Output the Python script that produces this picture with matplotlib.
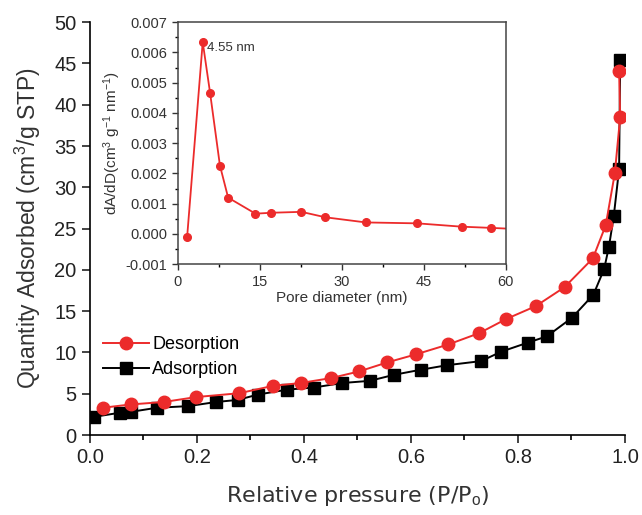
import numpy as np
import matplotlib
matplotlib.use("Agg")
import matplotlib.pyplot as plt
from matplotlib.ticker import MultipleLocator

plt.rcParams["font.family"] = ["Liberation Sans", "DejaVu Sans"]
plt.rcParams["mathtext.fontset"] = "custom"
plt.rcParams["mathtext.rm"] = "Liberation Sans"
plt.rcParams["mathtext.it"] = "Liberation Sans:italic"

# isotherm, desorption branch
des_p = [0.024, 0.076, 0.138, 0.199, 0.279, 0.342, 0.394, 0.451, 0.503, 0.556,
         0.609, 0.670, 0.728, 0.778, 0.833, 0.887, 0.940, 0.964, 0.981, 0.991, 0.989]
des_q = [3.3, 3.7, 4.0, 4.6, 5.06, 5.95, 6.3, 6.9, 7.7, 8.8,
         9.76, 10.97, 12.35, 14.05, 15.6, 17.9, 21.4, 25.4, 31.7, 38.5, 44.1]
# isotherm, adsorption branch
ads_p = [0.008, 0.056, 0.076, 0.125, 0.184, 0.236, 0.276, 0.314, 0.369, 0.418,
         0.472, 0.523, 0.569, 0.618, 0.668, 0.731, 0.769, 0.819, 0.854, 0.901,
         0.941, 0.961, 0.970, 0.979, 0.989, 0.991]
ads_q = [2.2, 2.7, 2.8, 3.3, 3.5, 4.0, 4.25, 4.9, 5.5, 5.75,
         6.3, 6.56, 7.3, 7.9, 8.46, 8.95, 10.1, 11.2, 11.95, 14.2,
         17.0, 20.1, 22.8, 26.5, 32.2, 45.4]
# pore size distribution (inset)
pore_d = [1.7, 4.55, 5.9, 7.7, 9.2, 14.2, 17.1, 22.6, 27.0, 34.4, 43.8, 51.9, 57.3]
pore_v = [-0.0001, 0.00634, 0.00466, 0.00226, 0.0012, 0.00067, 0.0007, 0.00073,
          0.00055, 0.00038, 0.00035, 0.00024, 0.0002]

RED = "#ec2b2b"

fig = plt.figure(figsize=(6.42, 5.15), dpi=100)
ax = fig.add_axes([0.140, 0.1553, 0.8335, 0.8017])
ax.plot(ads_p, ads_q, "-s", color="black", lw=1.4, ms=8, label="Adsorption", zorder=3)
ax.plot(des_p, des_q, "-o", color=RED, lw=1.4, ms=9, label="Desorption", zorder=4)
ax.set_xlim(0, 1.0)
ax.set_ylim(0, 50)
ax.xaxis.set_major_locator(MultipleLocator(0.2))
ax.xaxis.set_minor_locator(MultipleLocator(0.1))
ax.yaxis.set_major_locator(MultipleLocator(5))
ax.set_xticklabels([f"{v:.1f}" for v in ax.get_xticks()])
for s in ("top", "right"):
    ax.spines[s].set_visible(False)
for s in ("left", "bottom"):
    ax.spines[s].set_linewidth(1.2)
ax.tick_params(which="major", direction="out", length=6, width=1.2, labelsize=14.5, colors="#222222")
ax.tick_params(which="minor", direction="out", length=3.5, width=1.2)
ax.set_xlabel("Relative pressure (P/P$_\\mathrm{o}$)", fontsize=16, family="DejaVu Sans",
              color="#333333", labelpad=12)
ax.set_ylabel("Quantity Adsorbed (cm$^3$/g STP)", fontsize=16.5, color="#333333", labelpad=8)
h, l = ax.get_legend_handles_labels()
ax.legend(h[::-1], l[::-1], loc="center left", bbox_to_anchor=(-0.005, 0.188), frameon=False,
          fontsize=13, handlelength=2.5, handletextpad=0.2, labelspacing=0.45)

ins = fig.add_axes([0.277, 0.487, 0.511, 0.470])
ins.plot(pore_d + [61], pore_v + [0.00017], "-", color=RED, lw=1.3, clip_on=True)
ins.plot(pore_d, pore_v, "o", color=RED, ms=5.5)
ins.set_xlim(0, 60)
ins.set_ylim(-0.001, 0.007)
ins.xaxis.set_major_locator(MultipleLocator(15))
ins.xaxis.set_minor_locator(MultipleLocator(7.5))
ins.yaxis.set_major_locator(MultipleLocator(0.001))
ins.yaxis.set_minor_locator(MultipleLocator(0.0005))
ins.set_yticklabels([f"{v:.3f}" for v in ins.get_yticks()])
ins.tick_params(which="major", direction="out", length=4, width=1, labelsize=10.5,
                colors="#333333", top=False, right=False)
ins.tick_params(which="minor", direction="out", length=2.5, width=1, top=False, right=False)
for s in ins.spines.values():
    s.set_linewidth(1.1)
    s.set_color("#444444")
ins.set_xlabel("Pore diameter (nm)", fontsize=11, color="#333333", labelpad=2)
ins.set_ylabel("dA/dD(cm$^3$ g$^{-1}$ nm$^{-1}$)", fontsize=11, color="#333333", labelpad=2)
ins.text(5.4, 0.00615, "4.55 nm", fontsize=9.5, va="center", ha="left", color="#333333")

fig.savefig("out.png", dpi=100, facecolor="white")
